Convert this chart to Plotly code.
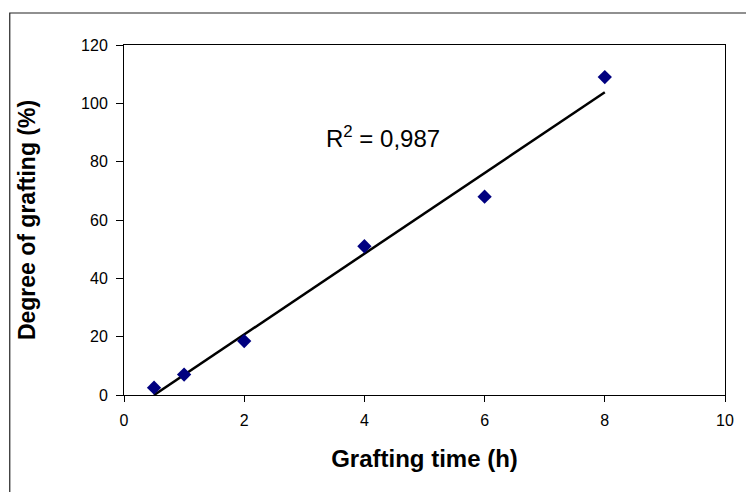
import numpy as np
import plotly.graph_objects as go

# Data
time_h = [0.5, 1, 2, 4, 6, 8]
grafting_pct = [2.5, 7, 18.5, 51, 68, 109]
r2_label = "R<sup>2</sup> = 0,987"
x_title = "Grafting time (h)"
y_title = "Degree of grafting (%)"

# Linear trendline from the data
slope, intercept = np.polyfit(time_h, grafting_pct, 1)
trend_x = [min(time_h), max(time_h)]
trend_y = [slope * x + intercept for x in trend_x]

fig = go.Figure()
fig.add_trace(go.Scatter(x=trend_x, y=trend_y, mode="lines",
                         line=dict(color="black", width=2.5), showlegend=False,
                         hoverinfo="skip"))
fig.add_trace(go.Scatter(x=time_h, y=grafting_pct, mode="markers",
                         marker=dict(symbol="diamond", size=11, color="#000080"),
                         showlegend=False))

font_family = "Liberation Sans, Arial, sans-serif"

fig.update_layout(
    width=746, height=492,
    margin=dict(l=124, r=17, t=45, b=97),
    paper_bgcolor="white", plot_bgcolor="white",
    font=dict(family=font_family, color="black", size=16),
    xaxis=dict(range=[0, 10], dtick=2, tick0=0, showgrid=False, zeroline=False,
               showline=True, linecolor="black", linewidth=1, mirror=True,
               ticks="outside", ticklen=6, tickcolor="black",
               ticklabelstandoff=5,
               tickfont=dict(size=16, color="black"),
               title=dict(text="<b>" + x_title + "</b>", font=dict(size=24, color="black"),
                          standoff=21)),
    yaxis=dict(range=[0, 120], dtick=20, tick0=0, showgrid=False, zeroline=False,
               showline=True, linecolor="black", linewidth=1, mirror=True,
               ticks="outside", ticklen=7, tickcolor="black",
               ticklabelstandoff=5,
               tickfont=dict(size=16, color="black"),
               title=dict(text="<b>" + y_title + "</b>", font=dict(size=23, color="black"),
                          standoff=39)),
    annotations=[dict(x=3.32, y=88.4, xref="x", yref="y", text=r2_label,
                      showarrow=False, xanchor="left", yanchor="middle",
                      font=dict(size=24, color="black", family=font_family))],
    shapes=[dict(type="rect", xref="paper", yref="paper",
                 x0=(9 - 124) / 605, x1=(760 - 124) / 605,
                 y0=-(120 / 350), y1=1 + 32 / 350,
                 line=dict(color="#222222", width=1.2), fillcolor="rgba(0,0,0,0)",
                 layer="below")],
)

fig.write_html("out.html")
